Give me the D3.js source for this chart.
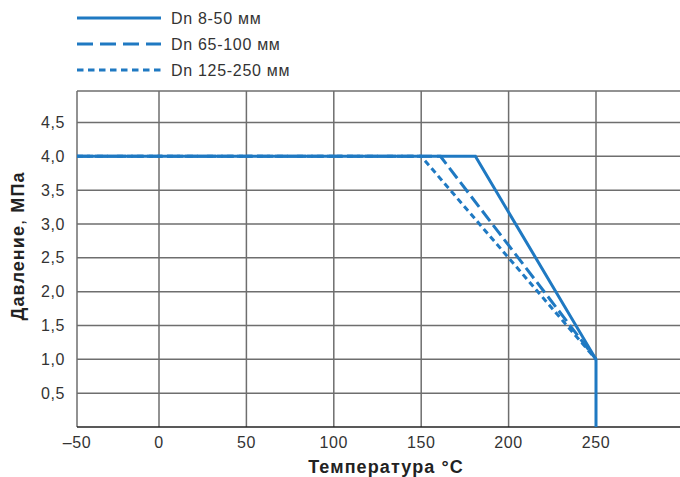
<!DOCTYPE html>
<html>
<head>
<meta charset="utf-8">
<script src="https://cdn.jsdelivr.net/npm/d3@7"></script>
<style>
  body { margin: 0; background: #fff; }
  svg { font-family: "Liberation Sans", Arial, sans-serif; }
</style>
</head>
<body>
<script>
// data
const xTicks = [-50, 0, 50, 100, 150, 200, 250];
const yTicks = [0.5, 1.0, 1.5, 2.0, 2.5, 3.0, 3.5, 4.0, 4.5];
const seriesNames = ['Dn 8-50 мм', 'Dn 65-100 мм', 'Dn 125-250 мм'];
const dn8_50 = [[-50, 4], [181, 4], [250, 1], [250, 0]];
const dn65_100 = [[-50, 4], [161, 4], [250, 1]];
const dn125_250 = [[-50, 4], [150, 4], [250, 1]];

const W = 680, H = 477;
const blue = '#1f79c2';
const grid = '#6e6e6e';

const svg = d3.select('body').append('svg')
  .attr('width', W).attr('height', H);

// first interval of the original axis is a bit short, keep it that way
const x = d3.scaleLinear().domain([-50, 0, 300]).range([77, 159, 683.4]);
const y = d3.scaleLinear().domain([0, 4.5]).range([427, 122.5]);
const plotTop = 91;

// grid
svg.append('g').selectAll('line').data(yTicks).enter()
  .append('line')
  .attr('x1', x(-50)).attr('x2', W)
  .attr('y1', d => y(d)).attr('y2', d => y(d))
  .attr('stroke', grid).attr('stroke-width', 1.5);
svg.append('line')
  .attr('x1', x(-50)).attr('x2', W).attr('y1', plotTop).attr('y2', plotTop)
  .attr('stroke', grid).attr('stroke-width', 1.5);
svg.append('g').selectAll('line').data(xTicks).enter()
  .append('line')
  .attr('x1', d => x(d)).attr('x2', d => x(d))
  .attr('y1', plotTop).attr('y2', y(0))
  .attr('stroke', grid).attr('stroke-width', 1.5);
// bottom axis line
svg.append('line')
  .attr('x1', x(-50)).attr('x2', W).attr('y1', y(0)).attr('y2', y(0))
  .attr('stroke', '#222').attr('stroke-width', 1.5);

// tick labels
const fmtY = d => d3.format('.1f')(d).replace('.', ',');
svg.append('g').selectAll('text').data(yTicks).enter()
  .append('text')
  .attr('x', 65).attr('y', d => y(d) + 5.5)
  .attr('text-anchor', 'end')
  .attr('font-size', 16).attr('letter-spacing', 0.6).attr('fill', '#333')
  .text(fmtY);
svg.append('g').selectAll('text').data(xTicks).enter()
  .append('text')
  .attr('x', d => x(d)).attr('y', 448)
  .attr('text-anchor', 'middle')
  .attr('font-size', 16).attr('letter-spacing', 0.6).attr('fill', '#333')
  .text(d => d < 0 ? '\u2013' + Math.abs(d) : d);

// axis titles
svg.append('text')
  .attr('x', 386).attr('y', 473)
  .attr('text-anchor', 'middle')
  .attr('font-size', 18).attr('letter-spacing', 1.1)
  .attr('font-weight', 'bold').attr('fill', '#222')
  .text('Температура °C');
const yt = svg.append('text')
  .attr('transform', 'translate(24,246) rotate(-90)')
  .attr('text-anchor', 'middle')
  .attr('font-size', 18).attr('letter-spacing', 1.1).attr('fill', '#222');
yt.append('tspan').attr('font-weight', 'bold').text('Давление');
yt.append('tspan').text(', ');
yt.append('tspan').attr('font-weight', 'bold').text('МПа');

// lines
const line = d3.line().x(d => x(d[0])).y(d => y(d[1]));
const series = [
  { data: dn8_50, dash: null, legendDash: null },
  { data: dn65_100, dash: '13,5', legendDash: '16,7' },
  { data: dn125_250, dash: '6,4', legendDash: '6.5,4.5' }
];
svg.append('g').selectAll('path').data(series).enter()
  .append('path')
  .attr('d', d => line(d.data))
  .attr('fill', 'none')
  .attr('stroke', blue).attr('stroke-width', 3)
  .attr('stroke-dasharray', d => d.dash);

// legend
const lg = svg.append('g').selectAll('g').data(series).enter()
  .append('g')
  .attr('transform', (d, i) => 'translate(0,' + (18 + i * 26) + ')');
lg.append('line')
  .attr('x1', 77).attr('x2', 161).attr('y1', 0).attr('y2', 0)
  .attr('stroke', blue).attr('stroke-width', 3)
  .attr('stroke-dasharray', d => d.legendDash);
lg.append('text')
  .attr('x', 171).attr('y', 5.5)
  .attr('font-size', 16).attr('letter-spacing', 0.7).attr('fill', '#333')
  .text((d, i) => seriesNames[i]);
</script>
</body>
</html>
